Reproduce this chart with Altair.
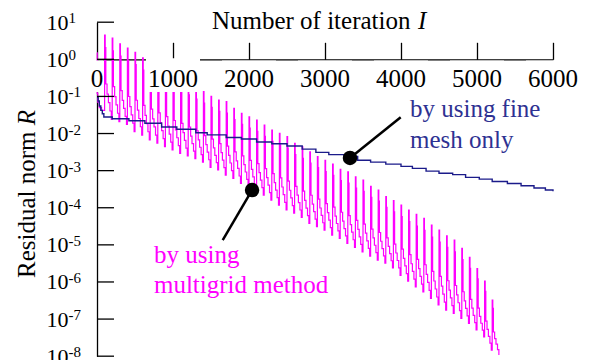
import altair as alt
import pandas as pd
import math

SERIF = "Liberation Serif"

# ---------------- data ----------------
# fine mesh only (step curve): iteration, residual
blue_iter = [0, 15, 30, 50, 70, 90, 200, 420, 630, 850, 1050, 1300, 1450, 1700, 1900,
             2100, 2300, 2500, 2700, 2880, 3050, 3250, 3430, 3600, 3800, 4000, 4150,
             4330, 4500, 4680, 4850, 5030, 5200, 5400, 5580, 5750, 5900, 6000]
blue_res = [0.095, 0.075, 0.055, 0.042, 0.034, 0.028, 0.025, 0.022, 0.019, 0.015, 0.013,
            0.0105, 0.0092, 0.0078, 0.0071, 0.0059, 0.0053, 0.0046, 0.0038, 0.0031,
            0.0027, 0.0024, 0.0019, 0.0017, 0.0015, 0.0013, 0.00115, 0.00097, 0.00085,
            0.00078, 0.00066, 0.00059, 0.00051, 0.00045, 0.00039, 0.00034, 0.00030, 0.00028]

# multigrid: start of the curve before the first restart
mg_start_iter = [0, 3, 10, 30, 60]
mg_start_res = [1.5, 0.12, 0.07, 0.05, 0.042]

# multigrid: iteration of each restart spike, its peak, and the level reached just before it
mg_spike_iter = [100, 200, 300, 400, 500, 600, 700, 800, 900, 1000, 1100, 1200, 1300,
                 1400, 1500, 1600, 1700, 1800, 1900, 2000, 2100, 2200, 2300, 2400, 2500,
                 2600, 2700, 2800, 2900, 3000, 3100, 3200, 3300, 3400, 3500, 3600, 3700,
                 3800, 3900, 4000, 4100, 4200, 4300, 4400, 4500, 4600, 4700, 4800, 4900,
                 5000, 5100, 5200]
mg_peak = [4.5, 3.7, 2.6, 2.0, 1.55, 1.1, 0.85, 0.66, 0.50, 0.38, 0.30, 0.22, 0.17,
           0.134, 0.10, 0.079, 0.072, 0.048, 0.035, 0.028, 0.023, 0.017, 0.0124, 0.0101,
           0.0083, 0.0054, 0.0044, 0.0032, 0.0024, 0.0019, 0.0015, 0.00108, 0.00093,
           0.00068, 0.00056, 0.00038, 0.0003, 0.0002, 0.000155, 0.000118, 8.7e-5, 6.6e-5,
           5.2e-5, 3.4e-5, 2.5e-5, 1.76e-5, 1.35e-5, 8.1e-6, 4.6e-6, 2.3e-6, 1.06e-6, 3.25e-7]
mg_low = [0.036, 0.024, 0.021, 0.0175, 0.0113, 0.0091, 0.0067, 0.0055, 0.0044, 0.0036,
          0.0029, 0.0025, 0.0021, 0.0017, 0.00123, 0.00104, 0.00076, 0.00062, 0.00045,
          0.00037, 0.00027, 0.00022, 0.000161, 0.000118, 8.7e-5, 7.1e-5, 5.5e-5, 3.8e-5,
          3.1e-5, 2.5e-5, 1.84e-5, 1.5e-5, 1.1e-5, 8.6e-6, 6.5e-6, 5.0e-6, 3.9e-6, 3.2e-6,
          2.4e-6, 1.5e-6, 1.05e-6, 7.4e-7, 5.4e-7, 3.6e-7, 2.4e-7, 1.75e-7, 1.43e-7,
          1.04e-7, 7.7e-8, 5.1e-8, 3.3e-8, 1.46e-8, 1.07e-8]
# shape of one cycle: iteration offset after the spike and the level, in decades,
# between the cycle's end level (0) and its peak (1)
cycle_offset = [0, 8, 16, 32, 50, 70, 88]
cycle_level = [1.0, 0.85, 0.42, 0.3, 0.2, 0.1, 0.0]

y_exps = [1, 0, -1, -2, -3, -4, -5, -6, -7, -8]
x_ticks = [0, 1000, 2000, 3000, 4000, 5000, 6000]

# ---------------- tables ----------------
rows = []
for i, r in zip(mg_start_iter, mg_start_res):
    rows.append((i, r))
for k, it in enumerate(mg_spike_iter):
    lp = math.log10(mg_peak[k])
    le = math.log10(mg_low[k + 1])
    for off, f in zip(cycle_offset, cycle_level):
        rows.append((it + off, 10 ** (le + f * (lp - le))))
mg_df = pd.DataFrame(rows, columns=["I", "R"])
mg_df["idx"] = range(len(mg_df))
blue_df = pd.DataFrame({"I": blue_iter, "R": blue_res})

W, H = 456, 334
xs = alt.Scale(domain=[0, 6000], nice=False, zero=False)
ys = alt.Scale(type="log", domain=[1e-8, 10], nice=False)

xaxis = alt.Axis(orient="top", offset=-37.1, values=x_ticks[1:], labels=False, title=None,
                 tickSize=17, tickColor="black", tickWidth=1.3, domainColor="black",
                 domainWidth=1.3, grid=False)
yaxis = alt.Axis(orient="left", labels=False, ticks=False, title=None, grid=False,
                 domainColor="black", domainWidth=1.3)

mag = alt.Chart(mg_df).mark_line(color="#ff00ff", strokeWidth=1.2, interpolate="step-after").encode(
    x=alt.X("I:Q", scale=xs, axis=xaxis),
    y=alt.Y("R:Q", scale=ys, axis=yaxis),
    order="idx:Q",
)
blue = alt.Chart(blue_df).mark_line(color="#1b1b8a", strokeWidth=1.4, interpolate="step-after").encode(
    x=alt.X("I:Q", scale=xs), y=alt.Y("R:Q", scale=ys)
)

xt_df = pd.DataFrame({"t": x_ticks, "lab": [str(t) for t in x_ticks]})
# white backgrounds behind the tick labels
box_big = alt.Chart(xt_df[xt_df.t == 1000]).mark_point(
    shape="M-1,-0.624L1,-0.624L1,0.624L-1,0.624Z", filled=True, color="white", opacity=1, size=2916
).encode(x=alt.X("t:Q", scale=xs), y=alt.value(52.95))
box4 = alt.Chart(xt_df[xt_df.t > 1000]).mark_point(
    shape="M-1,-0.583L1,-0.583L1,0.583L-1,0.583Z", filled=True, color="white", opacity=1, size=2916
).encode(x=alt.X("t:Q", scale=xs), y=alt.value(54.05))
box0 = alt.Chart(xt_df[xt_df.t == 0]).mark_point(
    shape="M-1,-2.42L1,-2.42L1,2.42L-1,2.42Z", filled=True, color="white", opacity=1, size=169
).encode(x=alt.X("t:Q", scale=xs), y=alt.value(54.05))
xlab = alt.Chart(xt_df).mark_text(font=SERIF, fontSize=25, align="center", baseline="alphabetic",
                                  color="black").encode(
    x=alt.X("t:Q", scale=xs), y=alt.value(64.5), text="lab:N")

ye_df = pd.DataFrame({"v": [10.0 ** e for e in y_exps], "e": [str(e) for e in y_exps]})
ytick = alt.Chart(ye_df).mark_rule(color="black", strokeWidth=1.3).encode(
    y=alt.Y("v:Q", scale=ys), x=alt.value(0), x2=alt.value(17))
ylab10 = alt.Chart(ye_df).mark_text(font=SERIF, fontSize=22, align="right", baseline="alphabetic",
                                    dy=7.5, color="black").encode(
    y=alt.Y("v:Q", scale=ys), x=alt.value(-28.5), text=alt.value("10"))
ylabe = alt.Chart(ye_df).mark_text(font=SERIF, fontSize=15, align="left", baseline="alphabetic",
                                   dy=1, color="black").encode(
    y=alt.Y("v:Q", scale=ys), x=alt.value(-28.5), text="e:N")

def txt(s, x, y, size=25, color="black", style="normal", angle=0):
    return alt.Chart(pd.DataFrame({"s": [s]})).mark_text(
        font=SERIF, fontSize=size, fontStyle=style, align="left", baseline="alphabetic",
        color=color, angle=angle).encode(x=alt.value(x), y=alt.value(y), text="s:N")

title1 = txt("Number of iteration", 115, 7.3)
title2 = txt("I", 115 + 206, 7.3, style="italic")
ytitle1 = txt("Residual norm", -62, 255.8, angle=270)
ytitle2 = txt("R", -62, 255.8 - 152.8, angle=270, style="italic")

BLUE_TXT = "#2e3192"
ann1 = txt("by using fine", 313, 95.1, color=BLUE_TXT)
ann2 = txt("mesh only", 313, 126.1, color=BLUE_TXT)
ann3 = txt("by using", 57, 240.5, color="#ff00ff")
ann4 = txt("multigrid method", 57, 270.5, color="#ff00ff")

# annotation pointers: dot on curve, line to the label
ptr_df = pd.DataFrame({"I": [3329, 2040], "R": [0.0022, 3.0e-4],
                       "I2": [3996, 1654], "R2": [0.0273, 1.35e-5]})
leader = alt.Chart(ptr_df).mark_rule(color="black", strokeWidth=2.5).encode(
    x=alt.X("I:Q", scale=xs), y=alt.Y("R:Q", scale=ys), x2="I2:Q", y2="R2:Q")
dots = alt.Chart(ptr_df).mark_point(filled=True, color="black", opacity=1, size=210, shape="circle").encode(
    x=alt.X("I:Q", scale=xs), y=alt.Y("R:Q", scale=ys))

chart = alt.layer(
    mag, blue, box_big, box4, box0, xlab, ytick, ylab10, ylabe, title1, title2, ytitle1, ytitle2,
    leader, dots, ann1, ann2, ann3, ann4
).properties(
    width=W, height=H,
    autosize=alt.AutoSizeParams(type="none"),
    padding={"left": 89, "top": 14.2, "right": 31, "bottom": 4},
).configure_view(stroke=None)

chart.save("out.html", embed_options={"renderer": "svg", "actions": False})
